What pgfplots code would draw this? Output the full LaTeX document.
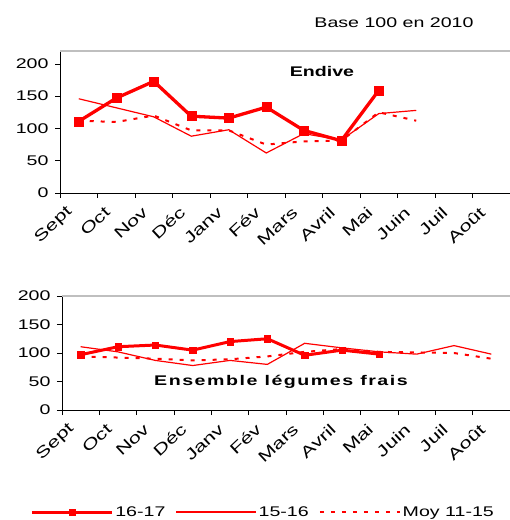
\documentclass[border=0pt]{standalone}
\usepackage{fontspec}
\setmainfont{Liberation Sans}[FakeStretch=1.4]
\usepackage{pgfplots}
\pgfplotsset{compat=1.18}
\definecolor{myred}{RGB}{255,0,0}
\pgfplotsset{
  mychart/.style={
    scale only axis,
    clip=false,
    xmin=-0.5, xmax=11.5, ymin=0,
    axis x line*=bottom, axis y line*=left,
    axis line style={black, line width=0.8bp, -},
    xtick={0,...,11},
    xticklabels={Sept,Oct,Nov,Déc,Janv,Fév,Mars,Avril,Mai,Juin,Juil,Août},
    minor xtick={-0.5,0.5,...,11.5},
    major x tick style={draw=none},
    minor tick style={black, line width=0.8bp},
    major tick style={black, line width=0.8bp},
    major tick length=5bp, minor tick length=5bp,
    tick align=outside,
    xtick pos=bottom, ytick pos=left,
    ytick={0,50,...,200},
    /pgf/number format/assume math mode=true,
    tick label style={font=\fontsize{14bp}{16bp}\selectfont},
    yticklabel style={xshift=-3bp},
    xticklabel style={font=\fontsize{15.5bp}{17bp}\selectfont, xshift=-8bp, yshift=-11bp, rotate=43, anchor=east, inner sep=1bp},
  },
  s1617/.style={myred, line width=3.3bp, mark=square*, mark options={solid, fill=myred, line width=0.5bp}},
  s1516/.style={myred, line width=1.2bp, no marks},
  smoy/.style={myred, line width=2bp, dash pattern=on 4bp off 7bp, no marks},
}
\begin{document}
\begin{tikzpicture}[font=\fontsize{14bp}{17bp}\selectfont]
\path[use as bounding box] (0,0) rectangle (510bp,520bp);

% Top chart: Endive
\begin{axis}[mychart, at={(60bp,327bp)}, anchor=south west,
  width=450bp, height=142bp, ymax=220]
\draw[black!25, line width=1.2bp] (rel axis cs:0,1) -- (rel axis cs:1,1);
\addplot[smoy] coordinates {(0,112) (1,110) (2,120) (3,97) (4,97) (5,75) (6,80) (7,81) (8,125) (9,112)};
\addplot[s1516] coordinates {(0,146) (1,132) (2,118) (3,88) (4,98) (5,62) (6,92) (7,82) (8,123) (9,128)};
\addplot[s1617, mark size=4.5bp] coordinates {(0,111) (1,147) (2,173) (3,119) (4,116) (5,133) (6,97) (7,81) (8,159)};
\end{axis}

% Bottom chart: Ensemble legumes frais
\begin{axis}[mychart, at={(62bp,110bp)}, anchor=south west,
  width=448bp, height=114bp, ymax=200,
  legend style={at={(axis description cs:-0.089,-0.895)}, anchor=west,
    draw=none, fill=none, legend columns=3, inner sep=0pt, column sep=0bp,
    font=\fontsize{14bp}{16bp}\selectfont},
  legend image code/.code={\path (-8bp,0bp); \draw[mark repeat=2,mark phase=2,#1] plot coordinates {(0bp,0bp) (40bp,0bp) (80bp,0bp)};}
  ]
\draw[black!25, line width=1.2bp] (rel axis cs:0,1) -- (rel axis cs:1,1);
\addplot[smoy, forget plot] coordinates {(0,94) (1,92) (2,90) (3,87) (4,89) (5,94) (6,102) (7,107) (8,102) (9,101) (10,100) (11,90)};
\addplot[s1516, forget plot] coordinates {(0,111) (1,102) (2,87) (3,78) (4,87) (5,80) (6,117) (7,109) (8,102) (9,98) (10,113) (11,98)};
\addplot[s1617, line width=3bp, mark size=3.2bp, forget plot] coordinates {(0,97) (1,111) (2,114) (3,105) (4,120) (5,125) (6,96) (7,105) (8,98)};
\addlegendimage{s1617, line width=3bp, mark size=3bp}
\addlegendentry{16-17}
\addlegendimage{s1516}
\addlegendentry{15-16}
\addlegendimage{smoy}
\addlegendentry{Moy 11-15}
\end{axis}

\node[font=\fontsize{14bp}{17bp}\selectfont] at (394bp,497bp) {Base 100 en 2010};
\node[font=\fontsize{14bp}{17bp}\selectfont\bfseries] at (322bp,448bp) {Endive};
\node[font=\fontsize{14bp}{17bp}\selectfont\bfseries\addfontfeature{LetterSpace=11}] at (281bp,138bp) {Ensemble légumes frais};
\end{tikzpicture}
\end{document}
